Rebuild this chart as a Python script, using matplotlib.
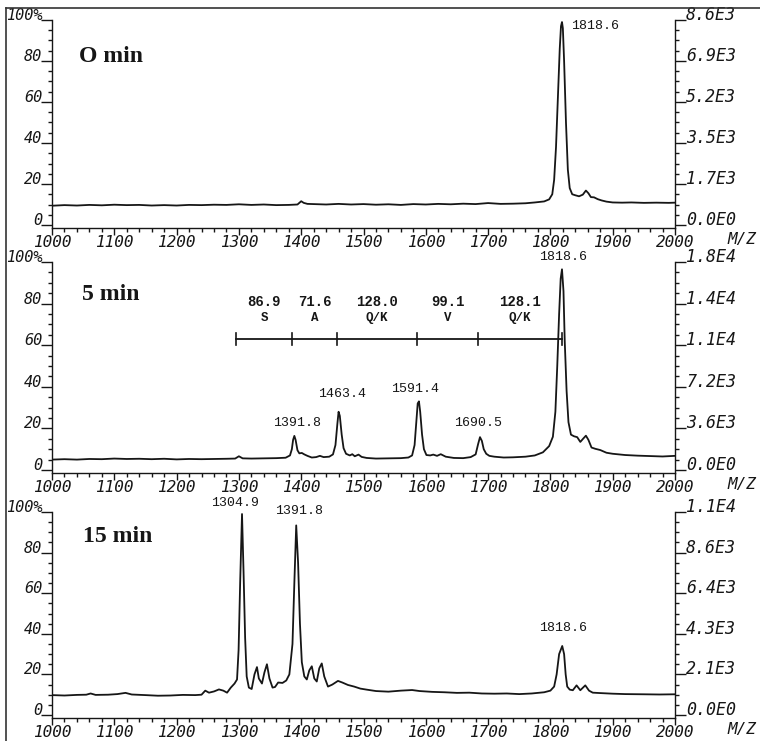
import matplotlib
matplotlib.use("Agg")
import matplotlib.pyplot as plt
from matplotlib.ticker import MultipleLocator
from matplotlib.lines import Line2D

# ---------------- data ----------------
panel_titles = ["O min", "5 min", "15 min"]

mz_0min = [1000, 1020, 1040, 1060, 1080, 1100, 1120, 1140, 1160, 1180, 1200, 1220, 1240, 1260, 1280,
           1300, 1320, 1340, 1360, 1380, 1394, 1400, 1404, 1410, 1420, 1440, 1460, 1480, 1500, 1520,
           1540, 1560, 1580, 1600, 1620, 1640, 1660, 1680, 1700, 1720, 1740, 1760, 1775, 1790, 1798,
           1803, 1806, 1809, 1812, 1815, 1817, 1818.6, 1820, 1822, 1825, 1828, 1831, 1835, 1840, 1846,
           1852, 1857, 1861, 1865, 1870, 1876, 1882, 1890, 1900, 1915, 1930, 1950, 1970, 1990, 2000]
int_0min = [9.4, 9.7, 9.5, 9.8, 9.6, 9.9, 9.7, 9.8, 9.5, 9.7, 9.5, 9.8, 9.7, 9.9, 9.8,
            10.1, 9.8, 10.0, 9.7, 9.8, 10.0, 11.6, 10.8, 10.3, 10.2, 10.0, 10.3, 10.0, 10.2, 9.9,
            10.1, 9.8, 10.2, 10.0, 10.3, 10.1, 10.4, 10.2, 10.7, 10.3, 10.4, 10.6, 11.0, 11.5, 12.5,
            15, 22, 38, 62, 86, 97, 99, 96, 80, 50, 27, 18, 15, 14.5, 14.0,
            14.8, 16.8, 15.5, 13.6, 13.5, 12.6, 12.0, 11.4, 11.0, 10.9, 11.0, 10.8, 10.9, 10.8, 10.9]

mz_5min = [1000, 1020, 1040, 1060, 1080, 1100, 1120, 1140, 1160, 1180, 1200, 1220, 1240, 1260, 1280,
           1294, 1300, 1306, 1320, 1340, 1360, 1375, 1382, 1385, 1387, 1389, 1391, 1394, 1397, 1401,
           1405, 1410, 1417, 1424, 1430, 1436, 1445, 1451, 1455, 1458, 1460, 1462, 1465, 1468, 1472,
           1478, 1482, 1486, 1492, 1497, 1505, 1520, 1540, 1560, 1572, 1578, 1582, 1585, 1587, 1589,
           1591, 1594, 1597, 1601, 1607, 1612, 1618, 1624, 1632, 1645, 1660, 1672, 1680, 1684, 1687,
           1690, 1693, 1697, 1702, 1710, 1725, 1740, 1760, 1775, 1788, 1798, 1804, 1808, 1811, 1814,
           1816.5, 1818.6, 1821, 1823, 1826, 1829, 1833, 1838, 1843, 1848, 1853, 1857, 1861, 1866, 1872,
           1880, 1890, 1900, 1920, 1940, 1960, 1980, 2000]
int_5min = [5.0, 5.2, 5.0, 5.3, 5.2, 5.5, 5.3, 5.4, 5.2, 5.4, 5.1, 5.3, 5.2, 5.3, 5.4,
            5.5, 6.6, 5.6, 5.5, 5.6, 5.7, 5.9, 7.0, 10, 14.5, 16.4, 14.5, 9.5, 8.0, 8.2,
            7.5, 6.8, 6.0, 6.2, 6.8, 6.2, 6.4, 7.5, 12, 22, 28, 26, 17, 10.5, 7.8,
            7.0, 7.6, 6.6, 7.4, 6.3, 5.8, 5.5, 5.6, 5.7, 6.0, 7.0, 12, 24, 32, 33,
            28, 17, 10, 7.2, 7.0, 7.4, 6.8, 7.6, 6.4, 5.8, 5.7, 6.2, 7.5, 12.5, 15.8,
            14, 10, 7.8, 6.8, 6.4, 6.0, 6.1, 6.4, 7.0, 8.5, 11.5, 16, 28, 50, 75,
            92, 96.5, 86, 62, 38, 23, 17, 16.2, 15.8, 13.5, 15.2, 16.5, 14.5, 10.8, 10.2,
            9.6, 8.3, 7.8, 7.2, 6.9, 6.7, 6.5, 6.8]

mz_15min = [1000, 1020, 1040, 1055, 1062, 1070, 1090, 1105, 1118, 1128, 1150, 1170, 1190, 1210, 1230,
            1240, 1246, 1252, 1260, 1268, 1275, 1281, 1287, 1293, 1297, 1299.5, 1302, 1305, 1307.5, 1310,
            1312.5, 1316, 1320.5, 1325, 1329, 1332, 1337, 1341, 1345, 1349, 1354, 1358, 1363, 1370, 1376,
            1381, 1386, 1389, 1392, 1395, 1398, 1401, 1405, 1409, 1413, 1417, 1421, 1425, 1429, 1433,
            1437, 1443, 1450, 1459, 1466, 1475, 1485, 1495, 1505, 1520, 1540, 1560, 1578, 1590, 1610,
            1630, 1650, 1670, 1690, 1710, 1730, 1750, 1770, 1790, 1800, 1806, 1810, 1814, 1819, 1822,
            1824.5, 1827, 1831, 1836, 1842, 1848, 1856, 1862, 1868, 1880, 1900, 1920, 1950, 1975, 2000]
int_15min = [9.8, 9.6, 9.9, 10.0, 10.6, 9.9, 10.0, 10.3, 10.9, 10.1, 9.8, 9.5, 9.6, 9.9, 9.8,
             10.0, 12.0, 11.0, 11.6, 12.6, 12.0, 11.0, 13.5, 15.5, 17.5, 32, 65, 99, 70, 38,
             19, 13.5, 12.8, 20, 23.6, 18, 15.5, 21, 25, 18, 13.5, 13.8, 16, 15.8, 17,
             20, 35, 65, 93.4, 75, 45, 26, 19, 17.5, 22, 24, 18, 16.5, 23, 25.4,
             19, 14, 15, 16.8, 16, 14.8, 14, 13, 12.5, 11.8, 11.5, 12.0, 12.3, 11.8, 11.4,
             11.2, 10.9, 11.0, 10.6, 10.5, 10.6, 10.3, 10.6, 11.2, 12.0, 14, 20, 30, 34, 30,
             20, 14, 12.5, 12.2, 14.6, 12.2, 14.6, 12.0, 11.0, 10.8, 10.5, 10.3, 10.2, 10.1, 10.2]

x_ticks = [1000, 1100, 1200, 1300, 1400, 1500, 1600, 1700, 1800, 1900, 2000]
x_tick_labels = ["1000", "1100", "1200", "1300", "1400", "1500", "1600", "1700", "1800", "1900", "2000"]
pct_ticks = [0, 20, 40, 60, 80, 100]
pct_tick_labels = ["0", "20", "40", "60", "80", "100%"]
right_labels_0min = ["0.0E0", "1.7E3", "3.5E3", "5.2E3", "6.9E3", "8.6E3"]
right_labels_5min = ["0.0E0", "3.6E3", "7.2E3", "1.1E4", "1.4E4", "1.8E4"]
right_labels_15min = ["0.0E0", "2.1E3", "4.3E3", "6.4E3", "8.6E3", "1.1E4"]

# peak labels: (text, m/z position, % position, horizontal alignment)
peak_labels_0min = [("1818.6", 1833, 97.3, "left")]
peak_labels_5min = [("1391.8", 1393, 22.7, "center"), ("1463.4", 1466, 36.7, "center"),
                    ("1591.4", 1583, 39.1, "center"), ("1690.5", 1684, 22.7, "center"),
                    ("1818.6", 1820, 102.5, "center")]
peak_labels_15min = [("1304.9", 1294, 104.3, "center"), ("1391.8", 1396, 100.5, "center"),
                     ("1818.6", 1820, 43.1, "center")]

# sequence ladder (5 min panel)
ladder_mz = [1296, 1386, 1457, 1586, 1684, 1818]
ladder_mass_diff = ["86.9", "71.6", "128.0", "99.1", "128.1"]
ladder_residue = ["S", "A", "Q/K", "V", "Q/K"]
ladder_level = 63.0

# ---------------- figure ----------------
W, H = 760, 741
fig = plt.figure(figsize=(W / 100, H / 100), dpi=100)
fig.patch.set_facecolor("white")

ink = "#161616"
tick_font = dict(family="DejaVu Sans Mono", style="oblique")
peak_font = dict(family="Liberation Mono")

# axes placement in pixels: (0% y, 100% y)
px_rows = [(225, 20), (470, 262), (715, 512)]
ymin = -1.5
x0_px, x1_px = 52, 675

series = [(mz_0min, int_0min, right_labels_0min, peak_labels_0min),
          (mz_5min, int_5min, right_labels_5min, peak_labels_5min),
          (mz_15min, int_15min, right_labels_15min, peak_labels_15min)]

title_pos = [(0.043, 0.798), (0.048, 0.821), (0.050, 0.854)]

for i, (mz, inten, rlabels, plabels) in enumerate(series):
    assert len(mz) == len(inten)
    y0, y100 = px_rows[i]
    ppp = (y0 - y100) / 100.0
    bot_px = y0 - ymin * ppp
    rect = [x0_px / W, 1 - bot_px / H, (x1_px - x0_px) / W, (bot_px - y100) / H]
    ax = fig.add_axes(rect)
    ax.set_facecolor("none")
    ax.plot(mz, inten, color=ink, lw=1.3, solid_joinstyle="round")
    ax.set_xlim(1000, 2000)
    ax.set_ylim(ymin, 100)
    for s in ["top", "right"]:
        ax.spines[s].set_visible(False)
    for s in ["left", "bottom"]:
        ax.spines[s].set_color(ink)
        ax.spines[s].set_linewidth(1.0)

    ax.set_xticks(x_ticks, labels=x_tick_labels, fontsize=11.5, **tick_font)
    ax.xaxis.set_minor_locator(MultipleLocator(20))
    ax.tick_params(axis="x", which="major", direction="out", length=5, width=1, pad=0, colors=ink)
    ax.tick_params(axis="x", which="minor", direction="out", length=3, width=1, colors=ink)

    ax.set_yticks(pct_ticks, labels=pct_tick_labels, fontsize=11, va="baseline", **tick_font)
    ax.yaxis.set_minor_locator(MultipleLocator(5))
    ax.tick_params(axis="y", which="major", direction="out", length=8, width=1, pad=-1, colors=ink)
    ax.tick_params(axis="y", which="minor", direction="out", length=3, width=1, colors=ink)

    tw = ax.twinx()
    tw.set_ylim(ymin, 100)
    for s in ["top", "left", "bottom"]:
        tw.spines[s].set_visible(False)
    tw.spines["right"].set_color(ink)
    tw.spines["right"].set_linewidth(1.0)
    tw.set_yticks(pct_ticks, labels=rlabels, fontsize=12, va="baseline", **tick_font)
    tw.yaxis.set_minor_locator(MultipleLocator(5))
    tw.tick_params(axis="y", which="major", direction="out", length=8, width=1, pad=0, colors=ink)
    tw.tick_params(axis="y", which="minor", direction="out", length=3, width=1, colors=ink)

    ax.annotate("M/Z", xy=(1, 0), xycoords="axes fraction", xytext=(38, -8.5),
                textcoords="offset points", ha="left", va="center", fontsize=11.5,
                color=ink, clip_on=False, **tick_font)

    tx, ty = title_pos[i]
    ax.text(tx, ty, panel_titles[i], transform=ax.transAxes, ha="left", va="baseline",
            fontsize=17, fontweight="bold", family="Liberation Serif", color=ink)

    for (txt, xm, yp, ha) in plabels:
        ax.text(xm, yp, txt, ha=ha, va="center", fontsize=9.5, color=ink, clip_on=False, **peak_font)

    if i == 1:
        ax.plot([ladder_mz[0], ladder_mz[-1]], [ladder_level, ladder_level], color=ink, lw=1.3)
        for xm in ladder_mz:
            ax.plot([xm, xm], [ladder_level - 3, ladder_level + 3], color=ink, lw=1.2)
        for k in range(len(ladder_mass_diff)):
            xc = 0.5 * (ladder_mz[k] + ladder_mz[k + 1])
            ax.text(xc, 81, ladder_mass_diff[k], ha="center", va="center", fontsize=10,
                    fontweight="bold", color=ink, **peak_font)
            ax.text(xc, 73.2, ladder_residue[k], ha="center", va="center", fontsize=9,
                    fontweight="bold", color=ink, **peak_font)

# outer frame (left and top borders of the scanned figure)
fig.add_artist(Line2D([6 / W, 6 / W], [0, 1 - 8 / H], transform=fig.transFigure, color="#333333", lw=1.2))
fig.add_artist(Line2D([6 / W, 1], [1 - 8 / H, 1 - 8 / H], transform=fig.transFigure, color="#333333", lw=1.2))

fig.savefig("out.png", dpi=100, facecolor="white")
